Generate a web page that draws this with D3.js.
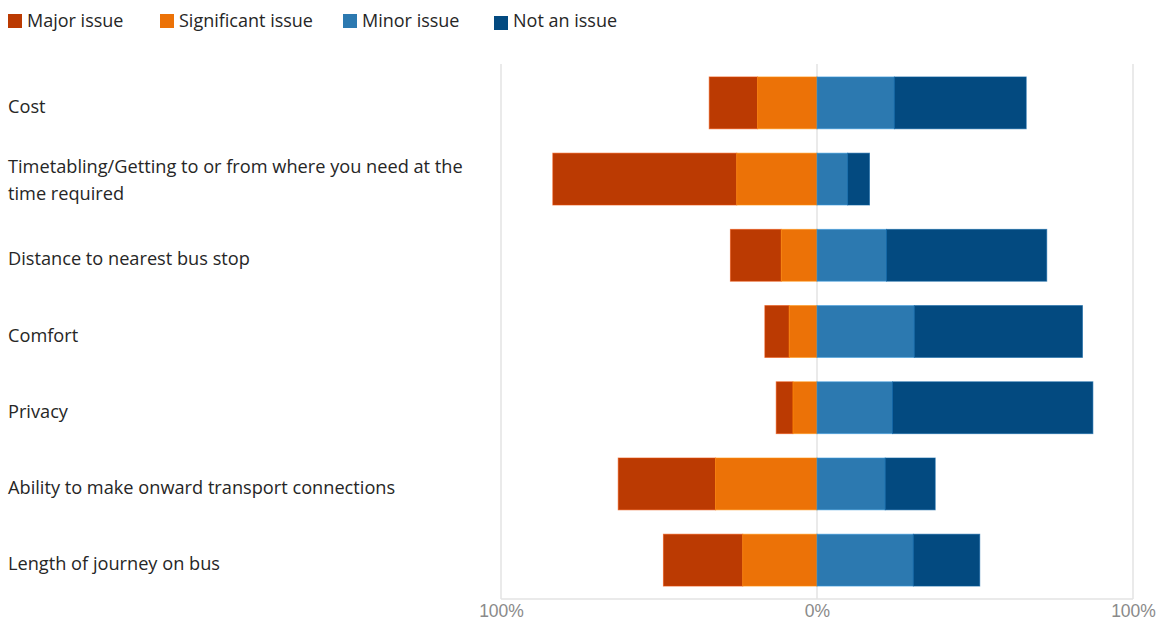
<!DOCTYPE html>
<html>
<head>
<meta charset="utf-8">
<script src="https://cdn.jsdelivr.net/npm/d3@7"></script>
<style>
  body { margin: 0; background: #fff; }
  text { font-family: "Open Sans", "Noto Sans", sans-serif; }
</style>
</head>
<body>
<script>
// data (percent of respondents)
const categories = [
    "Cost",
    "Timetabling/Getting to or from where you need at the time required",
    "Distance to nearest bus stop",
    "Comfort",
    "Privacy",
    "Ability to make onward transport connections",
    "Length of journey on bus"
];
const seriesNames = ["Major issue", "Significant issue", "Minor issue", "Not an issue"];
const majorIssue = [15.3, 58.2, 16.1, 7.7, 5.3, 30.8, 25.1];
const significantIssue = [18.8, 25.4, 11.3, 8.8, 7.6, 32.1, 23.5];
const minorIssue = [24.5, 9.7, 22.0, 30.8, 23.9, 21.6, 30.5];
const notAnIssue = [41.7, 6.9, 50.7, 53.2, 63.4, 15.8, 21.0];
const tickValues = [-100, 0, 100];

const colors = ["#BB3A02", "#EC7207", "#2C79B0", "#034A80"];

const width = 1161, height = 621;
const margin = { top: 64, right: 28, bottom: 22, left: 501 };

const svg = d3.select("body").append("svg")
    .attr("width", width)
    .attr("height", height);

const x = d3.scaleLinear()
    .domain([-100, 100])
    .range([margin.left, width - margin.right]);

const y = d3.scaleBand()
    .domain(categories)
    .range([margin.top, height - margin.bottom])
    .paddingInner(0.32)
    .paddingOuter(0.17);

// gridlines
svg.append("g")
    .selectAll("line")
    .data(tickValues)
    .join("line")
    .attr("x1", d => x(d)).attr("x2", d => x(d))
    .attr("y1", margin.top).attr("y2", height - margin.bottom)
    .attr("stroke", "#e3e3e3")
    .attr("stroke-width", 1.5);

svg.append("line")
    .attr("x1", x(-100)).attr("x2", x(100))
    .attr("y1", height - margin.bottom).attr("y2", height - margin.bottom)
    .attr("stroke", "#e3e3e3")
    .attr("stroke-width", 1.5);

// build stacked segments: negative side grows left from 0
const rows = categories.map((c, i) => {
    const segs = [];
    const neg = [majorIssue[i], significantIssue[i]];
    segs.push({ cat: c, s: 0, x0: -(neg[0] + neg[1]), x1: -neg[1] });
    segs.push({ cat: c, s: 1, x0: -neg[1], x1: 0 });
    segs.push({ cat: c, s: 2, x0: 0, x1: minorIssue[i] });
    segs.push({ cat: c, s: 3, x0: minorIssue[i], x1: minorIssue[i] + notAnIssue[i] });
    return segs;
}).flat();

svg.append("g")
    .selectAll("rect")
    .data(rows)
    .join("rect")
    .attr("x", d => x(d.x0))
    .attr("y", d => y(d.cat))
    .attr("width", d => x(d.x1) - x(d.x0))
    .attr("height", y.bandwidth())
    .attr("fill", d => colors[d.s])
    .attr("stroke", d => d3.color(colors[d.s]).brighter(0.6))
    .attr("stroke-opacity", 0.6)
    .attr("stroke-width", 1);

// axis labels
const xAxis = svg.append("g")
    .attr("transform", `translate(0,${height - margin.bottom})`)
    .call(d3.axisBottom(x).tickValues(tickValues).tickSize(0).tickFormat(d => Math.abs(d) + "%"));
xAxis.select(".domain").remove();
xAxis.selectAll("text")
    .attr("y", 6)
    .style("font-family", "'Liberation Sans', Arial, sans-serif")
    .style("font-size", "17.5px")
    .attr("fill", "#8a8a8a");

// category labels with wrapping
const labelG = svg.append("g");
categories.forEach(c => {
    const t = labelG.append("text")
        .attr("x", 8)
        .attr("fill", "#262626")
        .style("font-size", "18.2px");
    const words = c.split(" ");
    const lines = [];
    let line = [];
    const tmp = t.append("tspan");
    words.forEach(w => {
        line.push(w);
        tmp.text(line.join(" "));
        if (tmp.node().getComputedTextLength() > 472 && line.length > 1) {
            line.pop();
            lines.push(line.join(" "));
            line = [w];
        }
    });
    lines.push(line.join(" "));
    tmp.remove();
    const cy = y(c) + y.bandwidth() / 2 - (lines.length > 1 ? 3 : 0);
    const lh = 27;
    lines.forEach((l, k) => {
        t.append("tspan")
            .attr("x", 8)
            .attr("y", cy + (k - (lines.length - 1) / 2) * lh)
            .attr("dy", "0.55em")
            .text(l);
    });
});

// legend
const legendX = [8, 160, 343, 494];
const legend = svg.append("g")
    .selectAll("g")
    .data(seriesNames)
    .join("g")
    .attr("transform", (d, i) => `translate(${legendX[i]},0)`);
legend.append("rect")
    .attr("x", 0).attr("y", (d, i) => i === 3 ? 16 : 14)
    .attr("width", 14).attr("height", 14)
    .attr("fill", (d, i) => colors[i]);
legend.append("text")
    .attr("x", 19).attr("y", 21)
    .attr("dy", "0.35em")
    .attr("fill", "#262626")
    .style("font-size", "18px")
    .text(d => d);
</script>
</body>
</html>
